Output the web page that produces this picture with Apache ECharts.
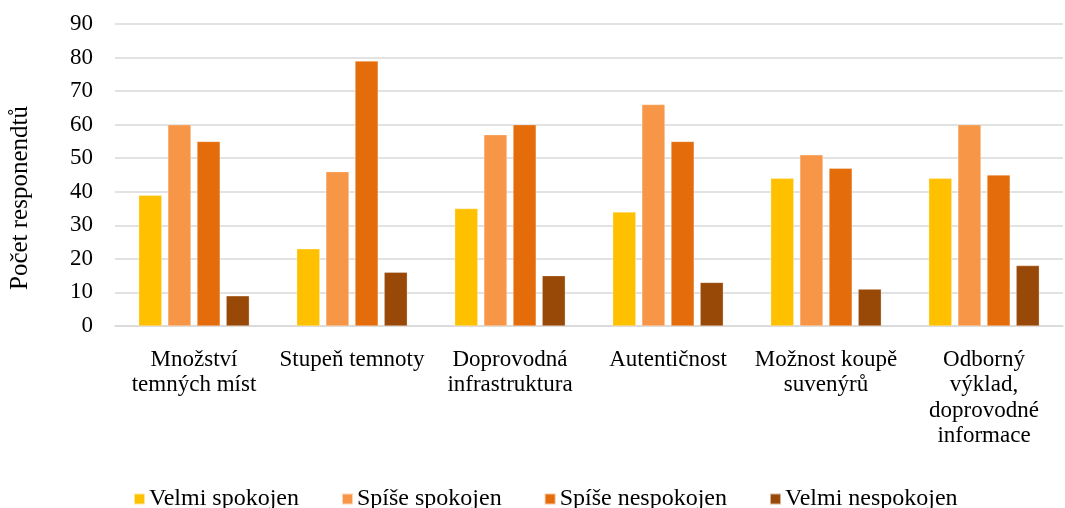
<!DOCTYPE html>
<html>
<head>
<meta charset="utf-8">
<script src="https://cdn.jsdelivr.net/npm/echarts@6/dist/echarts.min.js"></script>
<style>
html, body { margin: 0; padding: 0; background: #fff; }
#chart { width: 1065px; height: 508px; }
</style>
</head>
<body>
<div id="chart"></div>
<script>
var categories = ['Množství\ntemných míst', 'Stupeň temnoty', 'Doprovodná\ninfrastruktura',
  'Autentičnost', 'Možnost koupě\nsuvenýrů', 'Odborný\nvýklad,\ndoprovodné\ninformace'];
var series_names = ['Velmi spokojen', 'Spíše spokojen', 'Spíše nespokojen', 'Velmi nespokojen'];
var velmi_spokojen = [39, 23, 35, 34, 44, 44];
var spise_spokojen = [60, 46, 57, 66, 51, 60];
var spise_nespokojen = [55, 79, 60, 55, 47, 45];
var velmi_nespokojen = [9, 16, 15, 13, 11, 18];
var colors = ['#FFC000', '#F79646', '#E46C0A', '#984807'];
var y_ticks = [0, 10, 20, 30, 40, 50, 60, 70, 80, 90];

var font = '"Liberation Serif", "Times New Roman", serif';
var values = [velmi_spokojen, spise_spokojen, spise_nespokojen, velmi_nespokojen];

var myChart = echarts.init(document.getElementById('chart'));
var series = [];
for (var i = 0; i < series_names.length; i++) {
  series.push({
    name: series_names[i],
    type: 'bar',
    data: values[i],
    barGap: '26%',
    barCategoryGap: '30%',
    itemStyle: { color: colors[i], borderColor: 'rgba(255,255,255,0.6)', borderWidth: 0.5 }
  });
}

var option = {
  animation: false,
  color: colors,
  textStyle: { fontFamily: font },
  grid: { left: 115, right: 2, top: 24, bottom: 182, containLabel: false },
  legend: {
    data: series_names,
    top: 482,
    left: 128,
    itemWidth: 11,
    itemHeight: 11,
    itemGap: 42,
    icon: 'rect',
    textStyle: { fontFamily: font, fontSize: 24, color: '#000', padding: [0, 0, 0, -1] }
  },
  xAxis: {
    type: 'category',
    data: categories,
    axisLine: { show: true, lineStyle: { color: '#d9d9d9', width: 1.5 } },
    axisTick: { show: false },
    axisLabel: {
      interval: 0,
      margin: 21,
      fontFamily: font,
      fontSize: 23,
      lineHeight: 25.5,
      color: '#000'
    }
  },
  yAxis: {
    type: 'value',
    min: y_ticks[0],
    max: y_ticks[y_ticks.length - 1],
    interval: 10,
    name: 'Počet responendtů',
    nameLocation: 'middle',
    nameGap: 82,
    nameRotate: 90,
    nameTextStyle: { fontFamily: font, fontSize: 25, color: '#000', padding: [0, 46, 0, 0] },
    axisLine: { show: false },
    axisTick: { show: false },
    axisLabel: { fontFamily: font, fontSize: 23, color: '#000', margin: 22 },
    splitLine: { lineStyle: { color: '#d9d9d9', width: 1.5 } }
  },
  series: series
};
myChart.setOption(option);
</script>
</body>
</html>
